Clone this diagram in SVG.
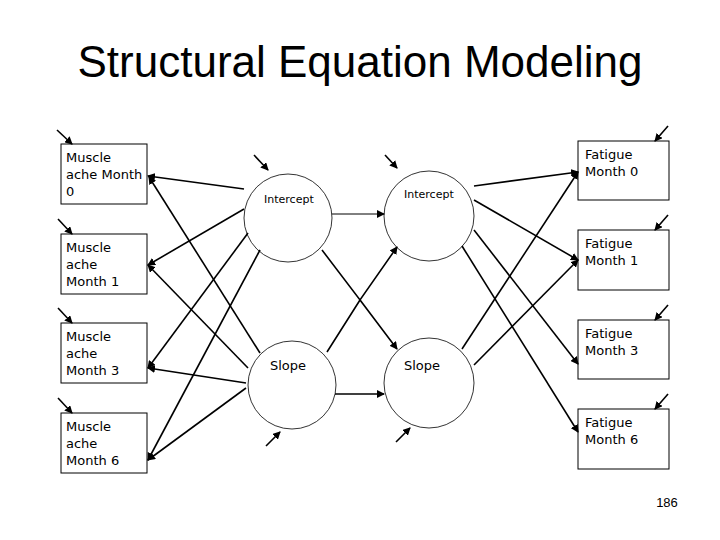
<svg xmlns="http://www.w3.org/2000/svg" width="720" height="540" viewBox="0 0 720 540">
<defs>
<marker id="a" markerWidth="8" markerHeight="8" refX="7" refY="4" orient="auto" markerUnits="userSpaceOnUse"><path d="M0,0 L8,4 L0,8 z" fill="#000"/></marker>
<style>
.t{font-family:"DejaVu Sans",sans-serif;font-size:13px;fill:#000}
.s{font-family:"DejaVu Sans",sans-serif;font-size:11px;fill:#000}
.b{fill:#fff;stroke:#000;stroke-width:1}
.c{fill:#fff;stroke:#000;stroke-width:0.8}
#conn line,#conn polyline{stroke:#000;stroke-width:1.6;fill:none;marker-end:url(#a)}
</style>
</defs>
<rect width="720" height="540" fill="#fff"/>
<text x="360" y="77" text-anchor="middle" font-family="Liberation Sans, sans-serif" font-size="44">Structural Equation Modeling</text>
<g id="m0"><rect class="b" x="61" y="144" width="86" height="60"/><text class="t" x="66" y="162">Muscle</text><text class="t" x="66" y="179">ache Month</text><text class="t" x="66" y="196">0</text></g>
<g id="m1"><rect class="b" x="61" y="234" width="86" height="60"/><text class="t" x="66" y="252">Muscle</text><text class="t" x="66" y="269">ache</text><text class="t" x="66" y="286">Month 1</text></g>
<g id="m3"><rect class="b" x="61" y="323" width="86" height="60"/><text class="t" x="66" y="341">Muscle</text><text class="t" x="66" y="358">ache</text><text class="t" x="66" y="375">Month 3</text></g>
<g id="m6"><rect class="b" x="61" y="413" width="86" height="60"/><text class="t" x="66" y="431">Muscle</text><text class="t" x="66" y="448">ache</text><text class="t" x="66" y="465">Month 6</text></g>
<g id="f0"><rect class="b" x="578" y="141" width="91" height="59"/><text class="t" x="585" y="159">Fatigue</text><text class="t" x="585" y="176">Month 0</text></g>
<g id="f1"><rect class="b" x="578" y="230" width="91" height="60"/><text class="t" x="585" y="248">Fatigue</text><text class="t" x="585" y="265">Month 1</text></g>
<g id="f3"><rect class="b" x="578" y="320" width="91" height="59"/><text class="t" x="585" y="338">Fatigue</text><text class="t" x="585" y="355">Month 3</text></g>
<g id="f6"><rect class="b" x="578" y="409" width="91" height="60"/><text class="t" x="585" y="427">Fatigue</text><text class="t" x="585" y="444">Month 6</text></g>
<g id="li"><circle class="c" cx="288" cy="218" r="44"/><text class="s" x="264" y="203">Intercept</text></g>
<g id="ls"><circle class="c" cx="292" cy="385" r="44"/><text class="t" x="270" y="370">Slope</text></g>
<g id="ri"><circle class="c" cx="429" cy="216" r="45"/><text class="s" x="404" y="198">Intercept</text></g>
<g id="rs"><circle class="c" cx="429" cy="383" r="45"/><text class="t" x="404" y="370">Slope</text></g>
<text x="667" y="507" text-anchor="middle" font-family="Liberation Sans, sans-serif" font-size="13">186</text>
<g id="conn">
<line x1="244" y1="189" x2="148" y2="176"/>
<line x1="244" y1="209" x2="148" y2="265"/>
<line x1="248" y1="233" x2="148" y2="368"/>
<line x1="260" y1="250" x2="148" y2="460"/>
<line x1="260" y1="353" x2="149" y2="177"/>
<line x1="248" y1="368" x2="148" y2="265"/>
<line x1="246" y1="383" x2="148" y2="368"/>
<line x1="246" y1="388" x2="148" y2="460"/>
<line x1="474" y1="186" x2="578" y2="172"/>
<line x1="474" y1="200" x2="578" y2="260"/>
<line x1="474" y1="230" x2="578" y2="364"/>
<line x1="462" y1="246" x2="578" y2="432"/>
<line x1="462" y1="349" x2="578" y2="172"/>
<line x1="474" y1="365" x2="578" y2="260"/>
<line x1="332" y1="214" x2="384" y2="214" style="stroke-width:1"/>
<line x1="335" y1="394" x2="384" y2="394"/>
<polyline points="322,250 360,300 397,247"/>
<polyline points="327,352 360,300 397,349"/>
<line x1="57" y1="130" x2="72" y2="144"/>
<line x1="58" y1="219" x2="72" y2="234"/>
<line x1="58" y1="308" x2="72" y2="323"/>
<line x1="58" y1="398" x2="72" y2="413"/>
<line x1="668" y1="126" x2="655" y2="141"/>
<line x1="668" y1="215" x2="655" y2="230"/>
<line x1="668" y1="305" x2="655" y2="320"/>
<line x1="668" y1="394" x2="655" y2="409"/>
<line x1="254" y1="155" x2="268" y2="170"/>
<line x1="385" y1="155" x2="397" y2="168"/>
<line x1="266" y1="446" x2="280" y2="432"/>
<line x1="396" y1="442" x2="410" y2="428"/>
</g>
</svg>
